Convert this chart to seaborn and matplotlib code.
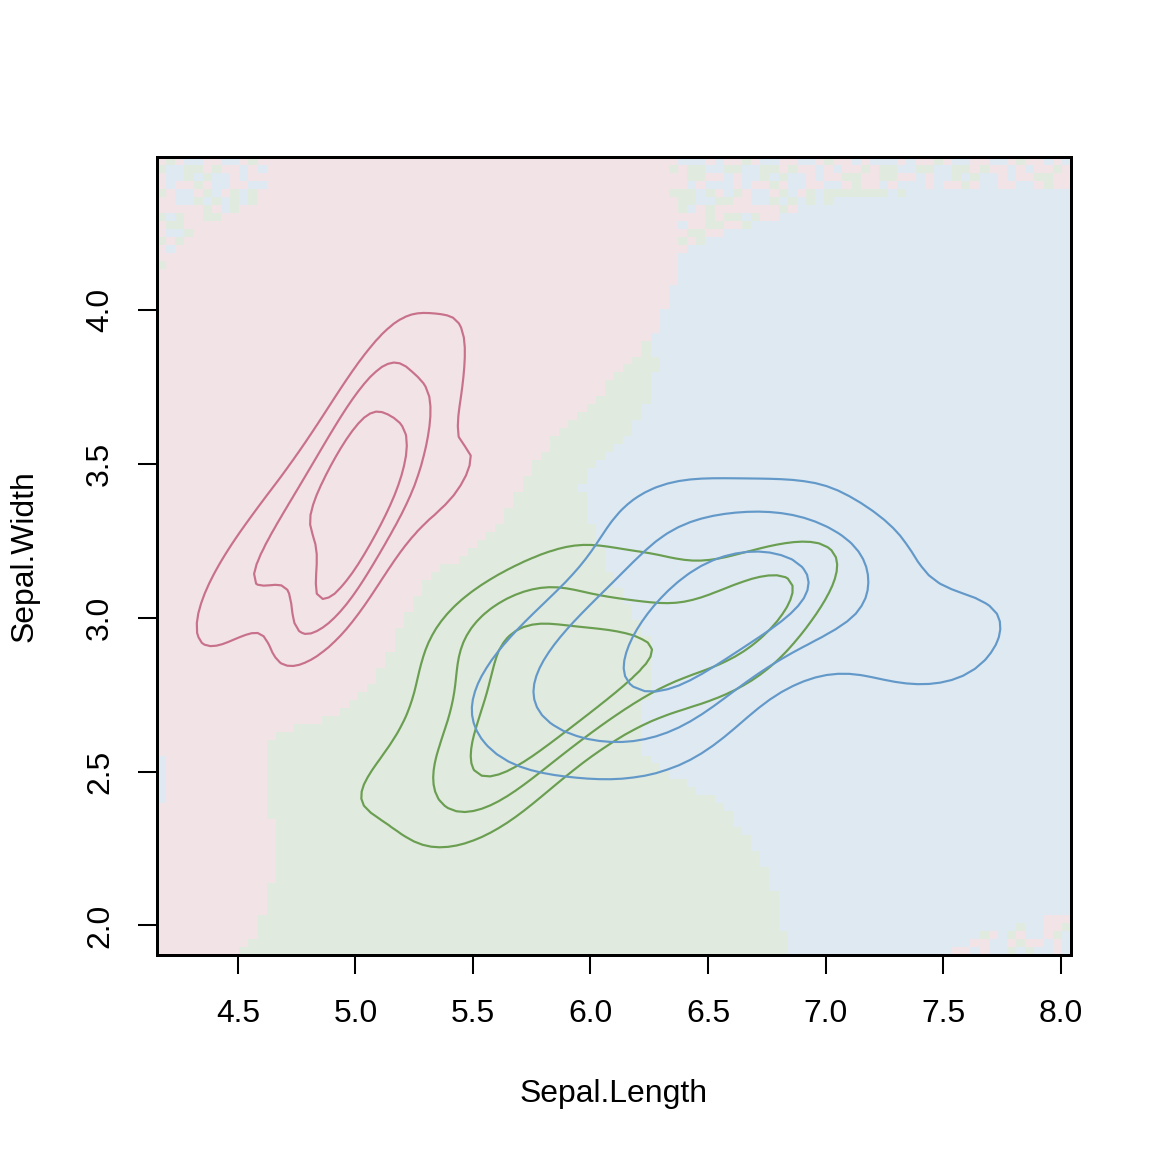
import numpy as np
import pandas as pd
import matplotlib
matplotlib.use("Agg")
import matplotlib.pyplot as plt
from matplotlib.colors import ListedColormap
import seaborn as sns

# iris sepal measurements, one list per species
setosa_length = [5.1, 4.9, 4.7, 4.6, 5.0, 5.4, 4.6, 5.0, 4.4, 4.9, 5.4, 4.8, 4.8, 4.3, 5.8,
                 5.7, 5.4, 5.1, 5.7, 5.1, 5.4, 5.1, 4.6, 5.1, 4.8, 5.0, 5.0, 5.2, 5.2, 4.7,
                 4.8, 5.4, 5.2, 5.5, 4.9, 5.0, 5.5, 4.9, 4.4, 5.1, 5.0, 4.5, 4.4, 5.0, 5.1,
                 4.8, 5.1, 4.6, 5.3, 5.0]
setosa_width = [3.5, 3.0, 3.2, 3.1, 3.6, 3.9, 3.4, 3.4, 2.9, 3.1, 3.7, 3.4, 3.0, 3.0, 4.0,
                4.4, 3.9, 3.5, 3.8, 3.8, 3.4, 3.7, 3.6, 3.3, 3.4, 3.0, 3.4, 3.5, 3.4, 3.2,
                3.1, 3.4, 4.1, 4.2, 3.1, 3.2, 3.5, 3.6, 3.0, 3.4, 3.5, 2.3, 3.2, 3.5, 3.8,
                3.0, 3.8, 3.2, 3.7, 3.3]
versicolor_length = [7.0, 6.4, 6.9, 5.5, 6.5, 5.7, 6.3, 4.9, 6.6, 5.2, 5.0, 5.9, 6.0, 6.1, 5.6,
                     6.7, 5.6, 5.8, 6.2, 5.6, 5.9, 6.1, 6.3, 6.1, 6.4, 6.6, 6.8, 6.7, 6.0, 5.7,
                     5.5, 5.5, 5.8, 6.0, 5.4, 6.0, 6.7, 6.3, 5.6, 5.5, 5.5, 6.1, 5.8, 5.0, 5.6,
                     5.7, 5.7, 6.2, 5.1, 5.7]
versicolor_width = [3.2, 3.2, 3.1, 2.3, 2.8, 2.8, 3.3, 2.4, 2.9, 2.7, 2.0, 3.0, 2.2, 2.9, 2.9,
                    3.1, 3.0, 2.7, 2.2, 2.5, 3.2, 2.8, 2.5, 2.8, 2.9, 3.0, 2.8, 3.0, 2.9, 2.6,
                    2.4, 2.4, 2.7, 2.7, 3.0, 3.4, 3.1, 2.3, 3.0, 2.5, 2.6, 3.0, 2.6, 2.3, 2.7,
                    3.0, 2.9, 2.9, 2.5, 2.8]
virginica_length = [6.3, 5.8, 7.1, 6.3, 6.5, 7.6, 4.9, 7.3, 6.7, 7.2, 6.5, 6.4, 6.8, 5.7, 5.8,
                    6.4, 6.5, 7.7, 7.7, 6.0, 6.9, 5.6, 7.7, 6.3, 6.7, 7.2, 6.2, 6.1, 6.4, 7.2,
                    7.4, 7.9, 6.4, 6.3, 6.1, 7.7, 6.3, 6.4, 6.0, 6.9, 6.7, 6.9, 5.8, 6.8, 6.7,
                    6.7, 6.3, 6.5, 6.2, 5.9]
virginica_width = [3.3, 2.7, 3.0, 2.9, 3.0, 3.0, 2.5, 2.9, 2.5, 3.6, 3.2, 2.7, 3.0, 2.5, 2.8,
                   3.2, 3.0, 3.8, 2.6, 2.2, 3.2, 2.8, 2.8, 2.7, 3.3, 3.2, 2.8, 3.0, 2.8, 3.0,
                   2.8, 3.8, 2.8, 2.8, 2.6, 3.0, 3.4, 3.1, 3.0, 3.1, 3.1, 3.1, 2.7, 3.2, 3.3,
                   3.0, 2.5, 3.0, 3.4, 3.0]

species = ["setosa", "versicolor", "virginica"]
line_colors = ["#C8718B", "#6A9E50", "#6399C9"]
fill_colors = ["#F2E3E7", "#E1EADF", "#DFE9F2"]
contour_levels = {"setosa": [0.35, 0.59, 0.79],
                  "versicolor": [0.34, 0.56, 0.8],
                  "virginica": [0.34, 0.57, 0.83]}
# bandwidth multipliers (x, y) for the class map behind the contours
bg_bw_scale = {"setosa": (1.0, 1.0), "versicolor": (0.95, 1.15), "virginica": (1.75, 1.05)}
x_ticks = [4.5, 5.0, 5.5, 6.0, 6.5, 7.0, 7.5, 8.0]
y_ticks = [2.0, 2.5, 3.0, 3.5, 4.0]

iris = pd.DataFrame({
    "Sepal.Length": setosa_length + versicolor_length + virginica_length,
    "Sepal.Width": setosa_width + versicolor_width + virginica_width,
    "Species": np.repeat(species, 50),
})

xlim = (4.156, 8.044)
ylim = (1.904, 4.496)


def nrd(v):
    q75, q25 = np.percentile(v, [75, 25])
    return 4 * 1.06 * min(np.std(v, ddof=1), (q75 - q25) / 1.34) * len(v) ** -0.2


def kde2d(x, y, gx, gy, scale=(1.0, 1.0)):
    hx = nrd(x) / 4 * scale[0]
    hy = nrd(y) / 4 * scale[1]
    kx = np.exp(-0.5 * ((gx[:, None] - x[None, :]) / hx) ** 2)
    ky = np.exp(-0.5 * ((gy[:, None] - y[None, :]) / hy) ** 2)
    return ky @ kx.T / (len(x) * 2 * np.pi * hx * hy)


# background: class with the highest density on a 100 x 100 grid
n = 100
gx = xlim[0] + (np.arange(n) + 0.5) * (xlim[1] - xlim[0]) / n
gy = ylim[0] + (np.arange(n) + 0.5) * (ylim[1] - ylim[0]) / n
dens = np.stack([
    kde2d(g["Sepal.Length"].values, g["Sepal.Width"].values, gx, gy, bg_bw_scale[sp])
    for sp, g in iris.groupby("Species")
])
cls = dens.argmax(axis=0)
# far from every flower no class wins: mixed cells
ii, jj = np.meshgrid(np.arange(n), np.arange(n))
ties = ((ii * 37 + jj * 91) * (ii + 2 * jj + 1) // 7) % 3
cls = np.where(dens.max(axis=0) < 1.5e-5, ties, cls)

sns.set_style("ticks")
plt.rcParams["font.family"] = ["Liberation Sans", "DejaVu Sans"]
plt.rcParams["text.color"] = "black"
plt.rcParams["axes.labelcolor"] = "black"

fig = plt.figure(figsize=(1152 / 172.8, 1152 / 172.8), dpi=172.8)
ax = fig.add_axes([157 / 1152, 1 - 955 / 1152, 914 / 1152, 798 / 1152])

ax.imshow(cls, cmap=ListedColormap(fill_colors), vmin=-0.5, vmax=2.5,
          extent=(xlim[0], xlim[1], ylim[0], ylim[1]), origin="lower",
          aspect="auto", interpolation="nearest", zorder=0)

for sp, col in zip(species, line_colors):
    sns.kdeplot(data=iris[iris["Species"] == sp], x="Sepal.Length", y="Sepal.Width",
                levels=contour_levels[sp], bw_adjust=0.9, gridsize=100, color=col,
                linewidths=0.9, ax=ax)

ax.set_xlim(xlim)
ax.set_ylim(ylim)
ax.set_xticks(x_ticks)
ax.set_xticklabels([f"{t:.1f}" for t in x_ticks])
ax.set_yticks(y_ticks)
ax.set_yticklabels([f"{t:.1f}" for t in y_ticks], rotation=90, va="center")
ax.tick_params(direction="out", length=8, width=0.85, colors="black",
               labelcolor="black", labelsize=13.3)
ax.tick_params(axis="x", pad=10.5)
ax.tick_params(axis="y", pad=9.5)
for s in ax.spines.values():
    s.set_visible(True)
    s.set_color("black")
    s.set_linewidth(1.25)
ax.set_xlabel("Sepal.Length", fontsize=13.3, labelpad=20.5)
ax.set_ylabel("Sepal.Width", fontsize=13.3, labelpad=19)

fig.savefig("out.png", dpi=172.8)
